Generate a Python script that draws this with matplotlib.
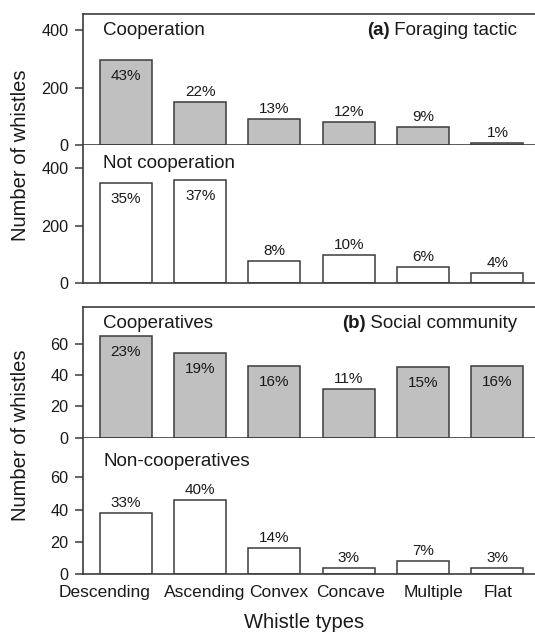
import matplotlib
matplotlib.use("Agg")
import matplotlib.pyplot as plt
import matplotlib.transforms as mtransforms
import numpy as np

plt.rcParams['font.family'] = ['Liberation Sans', 'DejaVu Sans']

# Whistle type categories
whistle_types = ["Descending", "Ascending", "Convex", "Concave", "Multiple", "Flat"]

# (a) Foraging tactic: number of whistles
cooperation = [296, 148, 92, 80, 63, 7]
cooperation_pct = [43, 22, 13, 12, 9, 1]
not_cooperation = [348, 358, 77, 98, 58, 35]
not_cooperation_pct = [35, 37, 8, 10, 6, 4]

# (b) Social community: number of whistles
cooperatives = [65, 54, 46, 31, 45, 46]
cooperatives_pct = [23, 19, 16, 11, 15, 16]
non_cooperatives = [38, 46, 16, 4, 8, 4]
non_cooperatives_pct = [33, 40, 14, 3, 7, 3]

W, H = 535, 632
fig = plt.figure(figsize=(W / 100, H / 100), dpi=100)

EDGE = "#3c3c3c"
GREY = "#c0c0c0"
TXT = "#1a1a1a"


def px_axes(top, bottom, left=83.3, right=535):
    return fig.add_axes([left / W, 1 - bottom / H, (right - left) / W, (bottom - top) / H])


panels = [
    dict(box=(14, 145), vals=cooperation, pct=cooperation_pct, fill=GREY,
         inside=[True, False, False, False, False, False], ylim=455.7,
         yticks=[0, 200, 400], name="Cooperation", name_dy=16.7,
         tag=("(a)", " Foraging tactic"), top_spine=True),
    dict(box=(145, 283.3), vals=not_cooperation, pct=not_cooperation_pct, fill="white",
         inside=[True, True, False, False, False, False], ylim=481,
         yticks=[0, 200, 400], name="Not cooperation", name_dy=18.3,
         tag=None, top_spine=False),
    dict(box=(307.3, 437.7), vals=cooperatives, pct=cooperatives_pct, fill=GREY,
         inside=[True, True, True, False, True, True], ylim=83.5,
         yticks=[0, 20, 40, 60], name="Cooperatives", name_dy=16.7,
         tag=("(b)", " Social community"), top_spine=True),
    dict(box=(437.7, 574), vals=non_cooperatives, pct=non_cooperatives_pct, fill="white",
         inside=[False] * 6, ylim=84.6,
         yticks=[0, 20, 40, 60], name="Non-cooperatives", name_dy=23.5,
         tag=None, top_spine=False),
]

# horizontal nudges (pixels) for the category labels under the bars
label_shift_px = [-21, 4, 4, 2, 10, 1]

x = np.arange(len(whistle_types))
for i, p in enumerate(panels):
    top, bottom = p["box"]
    ax = px_axes(top, bottom)
    ax.bar(x, p["vals"], width=0.70, color=p["fill"], edgecolor=EDGE, linewidth=1.1, zorder=2)
    ax.set_xlim(-0.573, 5.506)
    ax.set_ylim(0, p["ylim"])
    ax.set_yticks(p["yticks"])
    ax.tick_params(axis="y", direction="out", length=5.8, width=1.1, color=EDGE,
                   labelsize=11.7, pad=5, labelcolor=TXT)
    ax.tick_params(axis="x", length=0)
    for side in ["left", "bottom", "top"]:
        ax.spines[side].set_color(EDGE)
        ax.spines[side].set_linewidth(1.2)
    ax.spines["right"].set_visible(False)
    ax.spines["top"].set_visible(p["top_spine"])
    ax.spines["bottom"].set_zorder(3)

    for xi, v, pc, ins in zip(x, p["vals"], p["pct"], p["inside"]):
        dy = -11.5 if ins else 7.2
        ax.annotate(f"{pc}%", (xi, v), xytext=(0, dy), textcoords="offset points",
                    ha="center", va="center", fontsize=11, color=TXT)

    ax_h = bottom - top
    ax.text(0.0443, 1 - p["name_dy"] / ax_h, p["name"], transform=ax.transAxes,
            ha="left", va="center", fontsize=13.5, color=TXT)
    if p["tag"]:
        title = ax.text(0.961, 1 - p["name_dy"] / ax_h, p["tag"][1], transform=ax.transAxes,
                        ha="right", va="center", fontsize=13.5, color=TXT)
        # bold panel letter placed just left of the title
        fig.canvas.draw()
        bb = title.get_window_extent()
        x0 = ax.transAxes.inverted().transform((bb.x0, bb.y0))[0]
        ax.text(x0, 1 - p["name_dy"] / ax_h, p["tag"][0], transform=ax.transAxes,
                ha="right", va="center", fontsize=13.5, fontweight="bold", color=TXT)

    if i == 3:
        ax.set_xticks(x)
        ax.set_xticklabels(whistle_types, fontsize=12.5, color=TXT)
        ax.tick_params(axis="x", pad=8)
        for lab, dx in zip(ax.get_xticklabels(), label_shift_px):
            lab.set_transform(lab.get_transform() +
                              mtransforms.ScaledTranslation(dx / 100, 0, fig.dpi_scale_trans))
    else:
        ax.set_xticks([])

fig.text(21 / W, 1 - 155 / H, "Number of whistles", rotation=90, ha="center",
         va="center", fontsize=14.5, color=TXT)
fig.text(21 / W, 1 - 435 / H, "Number of whistles", rotation=90, ha="center",
         va="center", fontsize=14.5, color=TXT)
fig.text(304 / W, 1 - 622.5 / H, "Whistle types", ha="center", va="center",
         fontsize=14.5, color=TXT)

fig.savefig("out.png", dpi=100)
